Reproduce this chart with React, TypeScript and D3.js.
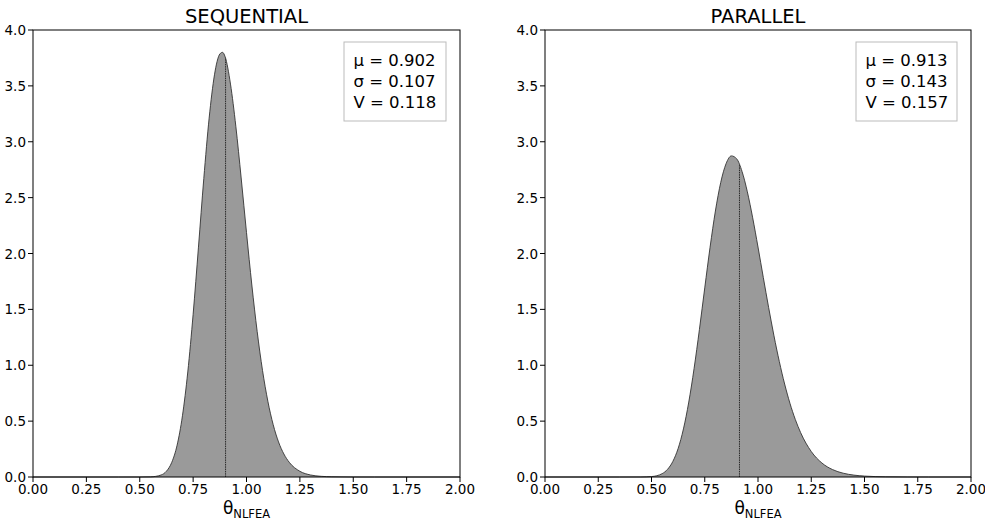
import React from "react";
import * as d3 from "d3";

// ---- Data ----
const seqX = [0.0, 0.4, 0.5, 0.55, 0.6, 0.625, 0.65, 0.675, 0.7, 0.725, 0.75, 0.775, 0.8, 0.825, 0.85, 0.8625, 0.875, 0.8875, 0.9, 0.925, 0.95, 0.975, 1.0, 1.025, 1.05, 1.075, 1.1, 1.125, 1.15, 1.175, 1.2, 1.25, 1.3, 1.35, 1.4, 1.5, 1.6, 2.0];
const seqY = [0, 0, 0.0001, 0.0012, 0.018, 0.052, 0.131, 0.285, 0.548, 0.94, 1.456, 2.057, 2.671, 3.211, 3.599, 3.72, 3.785, 3.80, 3.76, 3.516, 3.139, 2.676, 2.187, 1.718, 1.302, 0.954, 0.678, 0.468, 0.314, 0.206, 0.132, 0.051, 0.018, 0.006, 0.002, 0.0002, 0, 0];
const parX = [0.0, 0.35, 0.45, 0.5, 0.55, 0.575, 0.6, 0.625, 0.65, 0.675, 0.7, 0.725, 0.75, 0.775, 0.8, 0.825, 0.85, 0.875, 0.9, 0.925, 0.95, 0.975, 1.0, 1.025, 1.05, 1.075, 1.1, 1.125, 1.15, 1.175, 1.2, 1.25, 1.3, 1.35, 1.4, 1.45, 1.5, 1.6, 1.7, 1.8, 2.0];
const parY = [0, 0, 0.0003, 0.0039, 0.0299, 0.068, 0.1385, 0.255, 0.4305, 0.6705, 0.972, 1.3207, 1.6924, 2.0561, 2.3799, 2.6356, 2.8033, 2.8734, 2.8471, 2.7344, 2.552, 2.3196, 2.0577, 1.7846, 1.516, 1.2631, 1.0339, 0.8322, 0.6597, 0.5156, 0.3976, 0.2281, 0.1253, 0.0663, 0.034, 0.0169, 0.0082, 0.0018, 0.0004, 0.0001, 0];

const titles = ["SEQUENTIAL", "PARALLEL"];
const means = [0.902, 0.913];
const meanHeights = [3.75, 2.79];
const statLabels = [
  ["μ = 0.902", "σ = 0.107", "V = 0.118"],
  ["μ = 0.913", "σ = 0.143", "V = 0.157"],
];
const xTicks = [0, 0.25, 0.5, 0.75, 1.0, 1.25, 1.5, 1.75, 2.0];
const yTicks = [0, 0.5, 1.0, 1.5, 2.0, 2.5, 3.0, 3.5, 4.0];

const FONT = "'DejaVu Sans', sans-serif";

type PanelProps = {
  x0: number;
  x1: number;
  xs: number[];
  ys: number[];
  title: string;
  mean: number;
  meanH: number;
  stats: string[];
  boxX: number;
  boxW: number;
};

function Panel({ x0, x1, xs, ys, title, mean, meanH, stats, boxX, boxW }: PanelProps) {
  const y0 = 30;
  const y1 = 477;
  const x = d3.scaleLinear().domain([0, 2]).range([x0, x1]);
  const y = d3.scaleLinear().domain([0, 4]).range([y1, y0]);
  const pts: [number, number][] = xs.map((v, i) => [v, ys[i]]);
  const area = d3
    .area<[number, number]>()
    .x((d) => x(d[0]))
    .y0(y(0))
    .y1((d) => y(d[1]))
    .curve(d3.curveMonotoneX);
  const line = d3
    .line<[number, number]>()
    .x((d) => x(d[0]))
    .y((d) => y(d[1]))
    .curve(d3.curveMonotoneX);
  const cx = (x0 + x1) / 2;
  return (
    <g>
      <path d={area(pts) || ""} fill="#9a9a9a" stroke="none" />
      <path d={line(pts) || ""} fill="none" stroke="#333" strokeWidth={0.9} />
      <line
        x1={x(mean)}
        x2={x(mean)}
        y1={y(0)}
        y2={y(meanH)}
        stroke="#2a2a2a"
        strokeWidth={1}
        strokeDasharray="1.5,0.8"
      />
      {/* spines */}
      <rect x={x0} y={y0} width={x1 - x0} height={y1 - y0} fill="none" stroke="#000" strokeWidth={1} />
      {/* x ticks */}
      {xTicks.map((t) => (
        <g key={"x" + t}>
          <line x1={x(t)} x2={x(t)} y1={y1} y2={y1 + 5} stroke="#000" strokeWidth={1} />
          <text x={x(t)} y={y1 + 17} textAnchor="middle" fontFamily={FONT} fontSize={13.5} fill="#000">
            {t.toFixed(2)}
          </text>
        </g>
      ))}
      {/* y ticks */}
      {yTicks.map((t) => (
        <g key={"y" + t}>
          <line x1={x0 - 5} x2={x0} y1={y(t)} y2={y(t)} stroke="#000" strokeWidth={1} />
          <text x={x0 - 7} y={y(t) + 5} textAnchor="end" fontFamily={FONT} fontSize={13.5} fill="#000">
            {t.toFixed(1)}
          </text>
        </g>
      ))}
      {/* title */}
      <text x={cx} y={23} textAnchor="middle" fontFamily={FONT} fontSize={19.5} fill="#000">
        {title}
      </text>
      {/* x label */}
      <text x={cx} y={514} textAnchor="middle" fontFamily={FONT} fontSize={17} fill="#000">
        θ
        <tspan fontSize={11.5} dy={4}>
          NLFEA
        </tspan>
      </text>
      {/* stats box */}
      <rect x={boxX} y={42} width={boxW} height={79} fill="#fff" stroke="#bbb" strokeWidth={1} />
      {stats.map((s, i) => (
        <text key={s} x={boxX + 9.5} y={66 + i * 20.8} fontFamily={FONT} fontSize={16.5} fill="#000">
          {s}
        </text>
      ))}
    </g>
  );
}

export default function App() {
  return (
    <svg width={985} height={523} style={{ position: "absolute", left: 0, top: 0, background: "#fff" }}>
      <rect x={0} y={0} width={985} height={523} fill="#fff" />
      <Panel x0={33} x1={460} xs={seqX} ys={seqY} title={titles[0]} mean={means[0]} meanH={meanHeights[0]} stats={statLabels[0]} boxX={344} boxW={102} />
      <Panel x0={545} x1={971} xs={parX} ys={parY} title={titles[1]} mean={means[1]} meanH={meanHeights[1]} stats={statLabels[1]} boxX={856} boxW={101} />
    </svg>
  );
}
